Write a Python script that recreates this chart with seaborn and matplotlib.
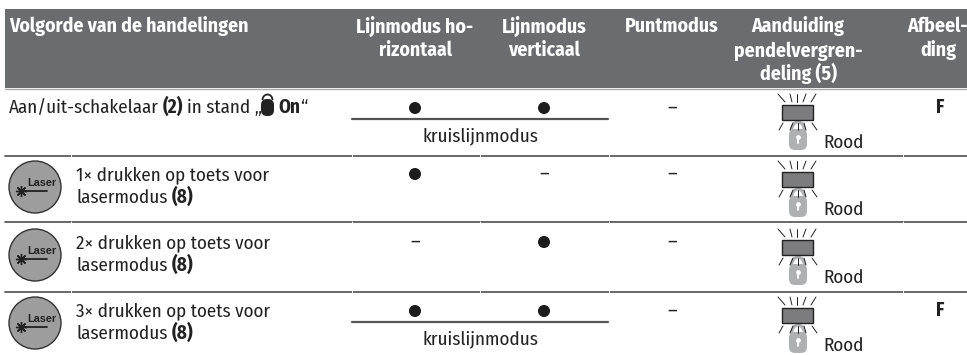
import matplotlib
matplotlib.use('Agg')
import matplotlib.pyplot as plt
import matplotlib.patches as mp
import pandas as pd
import seaborn as sns

# table content
headers = ['Volgorde van de handelingen', 'Lijnmodus ho-\nrizontaal', 'Lijnmodus\nverticaal',
           'Puntmodus', 'Aanduiding\npendelvergren-\ndeling (5)', 'Afbeel-\nding']
press_count = ['', '1×', '2×', '3×']
horizontal = [1, 1, 0, 1]
vertical = [1, 0, 1, 1]
point = [0, 0, 0, 0]
crossline = [True, False, False, True]
figure_ref = ['F', '', '', 'F']

sns.set_theme(style='white')
plt.rcParams['font.family'] = ['Fira Sans Condensed', 'Roboto Condensed', 'Liberation Sans', 'DejaVu Sans']

GREY = '#6b6c6f'
INK = '#222222'
LOCK = '#aeb0b2'
HS = 14.2
BS = 13.7

fig = plt.figure(figsize=(9.67, 3.55), dpi=100)
ax = fig.add_axes([0, 0, 1, 1])
ax.set_xlim(0, 967)
ax.set_ylim(355, 0)
ax.axis('off')

row_off = [0, 67, 135, 203]
dot_off = [0, 66, 134, 203]
col_mid = [None, 415, 544, 672, 798, 938]
col_edges = [71, 352, 480, 609, 903]


def pieces(x, y, parts):
    # draw normal/bold runs next to each other on one baseline
    r = fig.canvas.get_renderer()
    for s, w in parts:
        t = ax.text(x, y, s, fontsize=BS, fontweight=w, color=INK, va='baseline')
        x = t.get_window_extent(r).x1 + 4
    return x


def laser_icon(cy):
    ax.add_patch(mp.Circle((35, cy), 26, fc='#9d9d9d', ec='#333333', lw=1))
    ax.text(27, cy - 4.5, 'Laser', fontsize=7.8, fontweight='bold', color=INK, va='center',
            family=['Liberation Sans', 'DejaVu Sans'])
    ax.plot([22, 47], [cy + 4, cy + 4], color=INK, lw=1.3)
    ax.plot([21], [cy + 4], marker=(8, 2, 0), ms=8, mew=1, color=INK)


def indicator(dy):
    # lock with rays around it
    ax.add_patch(mp.FancyBboxPatch((789, 129 + dy), 18, 21, boxstyle='round,pad=0,rounding_size=6',
                                   fc=LOCK, ec='none', zorder=2))
    ax.add_patch(mp.Arc((798, 131 + dy), 13, 18, theta1=180, theta2=360, color=LOCK, lw=2.2, zorder=2))
    ax.plot([798], [137 + dy], 'o', ms=3.4, color='white', zorder=3, mew=0)
    ax.plot([798, 798], [137 + dy, 143 + dy], color='white', lw=1.4, zorder=3)
    ax.add_patch(mp.Rectangle((782, 105 + dy), 31, 15, fc='#7c7c7e', ec=INK, lw=1, zorder=3))
    for x0, x1 in [(778, 785), (790, 792), (797, 797), (806, 803), (816, 811)]:
        ax.plot([x0, x1], [94 + dy, 102 + dy], color=INK, lw=0.7)
    for x0, x1 in [(783, 779), (793, 790), (798, 798), (804, 806), (812, 817)]:
        ax.plot([x0, x1], [123 + dy, 130 + dy], color=INK, lw=0.7, zorder=4)
    ax.text(823, 148 + dy, 'Rood', fontsize=BS, color=INK, va='baseline')


# header band
ax.add_patch(mp.Rectangle((5, 9), 962, 79, fc=GREY, ec='none'))
ax.text(9, 32.5, headers[0], fontsize=HS, fontweight='bold', color='white', va='baseline')
for i, h in enumerate(headers[1:], start=1):
    for j, line in enumerate(h.split('\n')):
        ax.text(col_mid[i], 32.5 + j * 24, line, fontsize=HS, fontweight='bold',
                color='white', ha='center', va='baseline')

# row rules
ax.plot([5, 967], [88.5, 88.5], color='#a8a8a8', lw=1)
for y in [155.5, 221.7, 291.5]:
    ax.plot([5, 967], [y, y], color='#5c5c5c', lw=1.3)
    ax.vlines(col_edges, y - 1.2, y + 1.2, color='white', lw=0.6, zorder=2)

# first column
pieces(9, 113, [('Aan/uit-schakelaar', 'normal'), ('(2)', 'bold'), ('in stand „', 'normal')])
ax.add_patch(mp.FancyBboxPatch((261, 99), 13, 17, boxstyle='round,pad=0,rounding_size=6', fc=INK, ec='none'))
ax.add_patch(mp.Arc((267.5, 100), 10, 11, theta1=180, theta2=360, color=INK, lw=1.3))
x_on = pieces(278, 113, [('On', 'bold')])
ax.text(x_on - 4, 113, '“', fontsize=BS, color=INK, va='baseline')
for i in [1, 2, 3]:
    d = row_off[i]
    laser_icon(120 + d)
    ax.text(76, 113 + d, press_count[i] + ' drukken op toets voor', fontsize=BS, color=INK, va='baseline')
    pieces(76, 136 + d, [('lasermodus', 'normal'), ('(8)', 'bold')])

# marks per mode column
xs, ys = [], []
for c, vals in zip([1, 2, 3], [horizontal, vertical, point]):
    for v, d, dd in zip(vals, row_off, dot_off):
        if v:
            xs.append(col_mid[c])
            ys.append(108 + dd)
        else:
            ax.text(col_mid[c], 114 + dd, '–', fontsize=BS + 1, color=INK, ha='center', va='baseline')
dots = pd.DataFrame({'x': xs, 'y': ys})
sns.scatterplot(data=dots, x='x', y='y', s=75, color='#1c1c1c', edgecolor='none', ax=ax, legend=False)
ax.set_xlim(0, 967)
ax.set_ylim(355, 0)
ax.axis('off')

for cross, d in zip(crossline, row_off):
    if cross:
        ax.plot([352, 608], [118.5 + d, 118.5 + d], color='#555555', lw=1.6)
        ax.text(480, 141 + d, 'kruislijnmodus', fontsize=BS, color=INK, ha='center', va='baseline')

for d, f in zip(row_off, figure_ref):
    indicator(d)
    if f:
        ax.text(940, 113 + d, f, fontsize=BS, fontweight='bold', color=INK, ha='center', va='baseline')

fig.savefig('out.png', dpi=100)
